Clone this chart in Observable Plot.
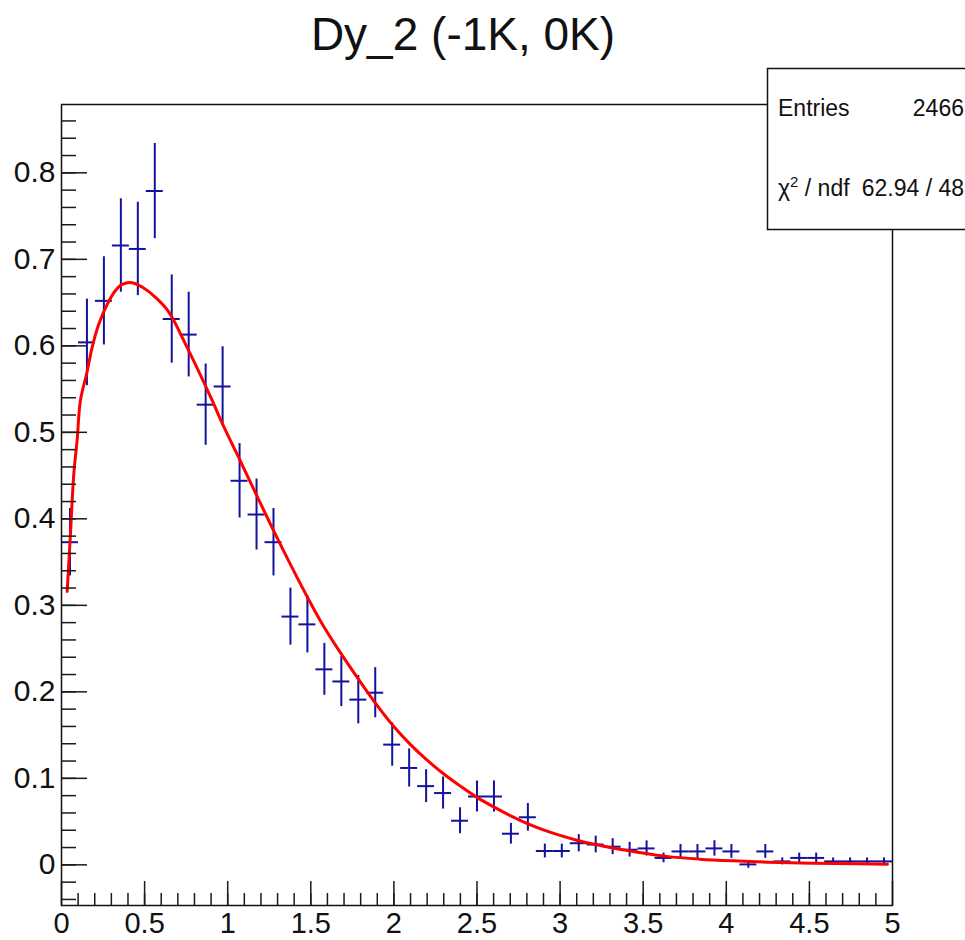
<!DOCTYPE html>
<html>
<head>
<meta charset="utf-8">
<script src="https://cdn.jsdelivr.net/npm/d3@7"></script>
<script src="https://cdn.jsdelivr.net/npm/@observablehq/plot@0.6"></script>
<style>
  html, body { margin: 0; padding: 0; background: #fff; }
  svg { display: block; }
</style>
</head>
<body>
<div id="chart"></div>
<script>
// ---- Histogram definition (49 bins on [0, 5]) ----
const xMin = 0, xMax = 5, nBins = 49;

// bin contents (normalised)
const binValues = [
  0.373, 0.604, 0.652, 0.716, 0.712, 0.779, 0.631, 0.613, 0.532, 0.553,
  0.444, 0.405, 0.373, 0.287, 0.278, 0.226, 0.212, 0.191, 0.199, 0.139,
  0.112, 0.091, 0.083, 0.051, 0.079, 0.079, 0.036, 0.055, 0.016, 0.016,
  0.025, 0.0235, 0.021, 0.0175, 0.019, 0.008, 0.0155, 0.0155, 0.019, 0.0155,
  0.0005, 0.0155, 0.004, 0.008, 0.008, 0.004, 0.004, 0.004, 0.004
];
// bin errors
const binErrors = [
  0.039, 0.050, 0.051, 0.054, 0.054, 0.055, 0.051, 0.049, 0.047, 0.046,
  0.043, 0.041, 0.039, 0.033, 0.033, 0.030, 0.029, 0.028, 0.029, 0.025,
  0.022, 0.019, 0.0185, 0.015, 0.018, 0.018, 0.012, 0.016, 0.008, 0.008,
  0.010, 0.0097, 0.0092, 0.0085, 0.0087, 0.0056, 0.008, 0.008, 0.0089, 0.008,
  0.0045, 0.008, 0.004, 0.0056, 0.0056, 0.004, 0.004, 0.004, 0.004
];

// fit curve
const fitX = [0.034, 0.054, 0.074, 0.094, 0.114, 0.154, 0.184, 0.224, 0.275, 0.325,
  0.365, 0.425, 0.485, 0.566, 0.646, 0.746, 0.897, 0.973, 1.073, 1.177,
  1.277, 1.378, 1.478, 1.558, 1.679, 1.789, 1.90, 1.99, 2.10, 2.20,
  2.30, 2.40, 2.50, 2.60, 2.70, 2.80, 2.90, 3.00, 3.10, 3.20,
  3.30, 3.44, 3.64, 3.84, 4.04, 4.25, 4.45, 4.65, 4.97];
const fitY = [0.316, 0.383, 0.452, 0.491, 0.537, 0.570, 0.598, 0.625, 0.648, 0.664,
  0.671, 0.673, 0.668, 0.656, 0.639, 0.602, 0.541, 0.508, 0.468, 0.426,
  0.386, 0.347, 0.310, 0.282, 0.245, 0.214, 0.184, 0.162, 0.139, 0.121,
  0.105, 0.091, 0.078, 0.067, 0.057, 0.048, 0.0405, 0.034, 0.0285, 0.024,
  0.020, 0.0155, 0.0098, 0.0066, 0.0046, 0.0031, 0.0022, 0.0015, 0.0008];

// tick labels
const xMajor = [0, 0.5, 1, 1.5, 2, 2.5, 3, 3.5, 4, 4.5, 5];
const xMajorLabels = ["0", "0.5", "1", "1.5", "2", "2.5", "3", "3.5", "4", "4.5", "5"];
const yMajor = [0, 0.1, 0.2, 0.3, 0.4, 0.5, 0.6, 0.7, 0.8];
const yMajorLabels = ["0", "0.1", "0.2", "0.3", "0.4", "0.5", "0.6", "0.7", "0.8"];
const xMinor = d3.range(1, 50).map(i => i / 10);
const yMinor = d3.range(-2, 44).map(i => i / 50);

const titleText = "Dy_2 (-1K, 0K)";
const statsEntries = "2466";
const statsChi = "62.94 / 48";

// ---- build table ----
const binW = (xMax - xMin) / nBins;
const bins = binValues.map((v, i) => ({
  lo: xMin + i * binW,
  hi: xMin + (i + 1) * binW,
  c: xMin + (i + 0.5) * binW,
  v,
  e: binErrors[i]
}));
const fit = fitX.map((x, i) => ({x, y: fitY[i]}));

const W = 965, H = 940;
const mL = 61, mR = 73, mT = 104, mB = 35;
const innerW = W - mL - mR, innerH = H - mT - mB;
const font = "'Liberation Sans', Arial, Helvetica, sans-serif";
const blue = "#12129c";
const axisColor = "#1a1a1a";

const svg = Plot.plot({
  width: W,
  height: H,
  marginLeft: mL,
  marginRight: mR,
  marginTop: mT,
  marginBottom: mB,
  style: {fontFamily: font, background: "white", overflow: "visible"},
  x: {domain: [xMin, xMax], axis: null},
  y: {domain: [-0.047, 0.879], axis: null},
  marks: [
    // error bars
    Plot.ruleY(bins, {x1: "lo", x2: "hi", y: "v", stroke: blue, strokeWidth: 2}),
    Plot.ruleX(bins, {x: "c", y1: d => d.v - d.e, y2: d => d.v + d.e, stroke: blue, strokeWidth: 2}),
    // fit
    Plot.line(fit, {x: "x", y: "y", stroke: "#ff0000", strokeWidth: 3, curve: "catmull-rom"}),
    // inward ticks
    Plot.tickY(yMinor, {y: d => d, insetRight: innerW - 15, stroke: axisColor, strokeWidth: 1.5}),
    Plot.tickY(yMajor, {y: d => d, insetRight: innerW - 26, stroke: axisColor, strokeWidth: 1.5}),
    Plot.tickX(xMinor, {x: d => d, insetTop: innerH - 12, stroke: axisColor, strokeWidth: 1.5}),
    Plot.tickX(xMajor, {x: d => d, insetTop: innerH - 24, stroke: axisColor, strokeWidth: 1.5}),
    // tick labels
    Plot.text(yMajor, {y: d => d, text: (d, i) => yMajorLabels[i], frameAnchor: "left", dx: -6,
      textAnchor: "end", fontSize: 30, fill: "#111"}),
    Plot.text(xMajor, {x: d => d, text: (d, i) => xMajorLabels[i], frameAnchor: "bottom", dy: 7,
      lineAnchor: "top", fontSize: 29, fill: "#111"}),
    Plot.frame({stroke: "#111", strokeWidth: 1.5})
  ]
});

const s = d3.select(svg);
// title
s.append("text")
  .attr("x", 463).attr("y", 50)
  .attr("text-anchor", "middle")
  .attr("font-family", font)
  .attr("font-size", 46)
  .attr("fill", "#111")
  .text(titleText);

// stats box
const g = s.append("g").attr("font-family", font).attr("font-size", 23).attr("fill", "#111")
  .attr("text-anchor", "start");
g.append("rect")
  .attr("x", 767.5).attr("y", 68.5)
  .attr("width", 220).attr("height", 161)
  .attr("fill", "white").attr("stroke", "#111").attr("stroke-width", 1.5);
g.append("text").attr("x", 778).attr("y", 116).attr("text-anchor", "start").text("Entries");
g.append("text").attr("x", 964).attr("y", 116).attr("text-anchor", "end").text(statsEntries);
const chi = g.append("text").attr("x", 778).attr("y", 196).attr("text-anchor", "start");
chi.append("tspan").text("χ");
chi.append("tspan").attr("dy", -9).attr("font-size", 15).text("2");
chi.append("tspan").attr("dy", 9).text(" / ndf");
g.append("text").attr("x", 964).attr("y", 196).attr("text-anchor", "end").text(statsChi);

document.getElementById("chart").appendChild(svg);
</script>
</body>
</html>
